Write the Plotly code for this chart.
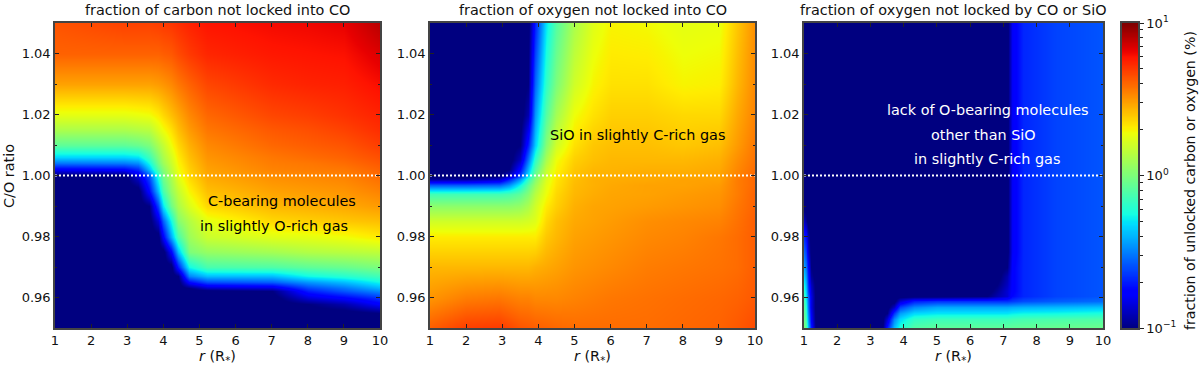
import numpy as np
import plotly.graph_objects as go

C_R = [1, 2.9, 3.3, 3.6, 3.85, 4.0, 4.2, 4.4, 4.7, 5.2, 7, 8, 9, 10]
C_RATIO = [0.950, 0.955, 0.958, 0.960, 0.962, 0.963, 0.965, 0.967, 0.970, 0.975, 0.980, 0.985,
           0.990, 0.995, 1.000, 1.002, 1.004, 1.006, 1.010, 1.015, 1.020, 1.030, 1.040, 1.050]
CARBON = [
    [.09, .09, .09, .09, .09, .09, .09, .09, .09, .09, .09, .09, .09, .09],
    [.09, .09, .09, .09, .09, .09, .09, .09, .09, .09, .09, .09, .09, .10],
    [.09, .09, .09, .09, .09, .09, .09, .09, .09, .09, .09, .10, .12, .17],
    [.09, .09, .09, .09, .09, .09, .09, .09, .09, .09, .09, .14, .17, .22],
    [.09, .09, .09, .09, .09, .09, .09, .09, .09, .09, .10, .20, .26, .33],
    [.09, .09, .09, .09, .09, .09, .09, .09, .10, .13, .14, .24, .30, .40],
    [.09, .09, .09, .09, .09, .09, .09, .09, .18, .25, .27, .35, .42, .55],
    [.09, .09, .09, .09, .09, .09, .09, .10, .32, .42, .42, .55, .62, .72],
    [.09, .09, .09, .09, .09, .09, .09, .20, .55, .75, .78, .85, .90, 1.0],
    [.09, .09, .09, .09, .09, .09, .17, .42, 1.0, 1.15, 1.25, 1.35, 1.4, 1.45],
    [.09, .09, .09, .09, .09, .17, .38, .75, 1.2, 1.55, 1.75, 1.8, 1.9, 2.1],
    [.09, .09, .09, .09, .14, .27, .55, 1.05, 1.35, 1.8, 2.3, 2.4, 2.5, 2.6],
    [.09, .09, .09, .10, .24, .50, .92, 1.3, 1.7, 2.3, 2.7, 2.8, 2.9, 3.1],
    [.09, .09, .09, .18, .42, .75, 1.15, 1.5, 2.0, 2.6, 3.0, 3.1, 3.2, 3.5],
    [.09, .09, .14, .25, .60, .95, 1.3, 1.8, 2.3, 2.9, 3.3, 3.4, 3.5, 3.9],
    [.17, .18, .22, .42, .80, 1.05, 1.45, 1.9, 2.4, 3.0, 3.5, 3.6, 3.7, 4.1],
    [.30, .31, .34, .55, .95, 1.2, 1.55, 2.0, 2.5, 3.1, 3.6, 3.7, 3.9, 4.3],
    [.47, .47, .50, .70, 1.05, 1.3, 1.65, 2.1, 2.6, 3.2, 3.7, 3.9, 4.1, 4.5],
    [.85, .85, .90, 1.0, 1.3, 1.5, 1.9, 2.3, 2.8, 3.4, 4.0, 4.2, 4.4, 4.9],
    [1.3, 1.3, 1.35, 1.4, 1.7, 1.9, 2.2, 2.6, 3.1, 3.7, 4.3, 4.5, 4.8, 5.3],
    [1.8, 1.8, 1.85, 1.9, 2.1, 2.3, 2.6, 2.9, 3.4, 4.0, 4.7, 4.9, 5.2, 5.6],
    [3.0, 3.0, 3.0, 3.0, 3.1, 3.2, 3.4, 3.7, 4.1, 4.7, 5.4, 5.6, 5.7, 6.2],
    [4.1, 4.1, 4.1, 4.1, 4.1, 4.2, 4.3, 4.6, 5.0, 5.5, 5.9, 6.0, 6.1, 6.9],
    [4.4, 4.8, 4.8, 4.8, 4.9, 5.0, 5.1, 5.3, 5.6, 6.0, 6.3, 6.4, 6.6, 8.0],
]

O_R = [1, 2, 2.9, 3.2, 3.5, 3.7, 3.9, 4.2, 4.5, 5, 5.5, 6, 7, 8, 9, 9.5, 10]
O_RATIO = [0.950, 0.960, 0.970, 0.980, 0.985, 0.990, 0.994, 0.997, 0.999, 1.000, 1.002, 1.005,
           1.010, 1.020, 1.030, 1.050]
OXYGEN = [
    [4.2, 4.9, 5.0, 4.7, 4.4, 4.3, 4.2, 4.1, 4.0, 3.9, 3.9, 3.9, 3.9, 4.0, 4.1, 4.3, 4.6],
    [3.2, 3.6, 3.7, 3.6, 3.5, 3.5, 3.4, 3.4, 3.4, 3.5, 3.6, 3.7, 3.8, 3.9, 4.0, 4.1, 4.3],
    [2.7, 2.7, 2.7, 2.7, 2.7, 2.7, 2.8, 2.9, 3.0, 3.2, 3.3, 3.4, 3.6, 3.7, 3.8, 3.9, 4.2],
    [2.1, 2.1, 2.1, 2.1, 2.1, 2.1, 2.1, 2.5, 2.7, 3.0, 3.1, 3.2, 3.4, 3.5, 3.7, 3.9, 4.2],
    [1.6, 1.6, 1.6, 1.6, 1.6, 1.65, 1.75, 2.3, 2.6, 2.9, 3.0, 3.1, 3.3, 3.4, 3.5, 3.8, 4.2],
    [1.1, 1.1, 1.1, 1.1, 1.15, 1.3, 1.6, 2.1, 2.4, 2.8, 2.95, 3.0, 3.1, 3.2, 3.3, 3.7, 4.1],
    [.72, .72, .72, .75, .85, 1.05, 1.4, 1.9, 2.3, 2.7, 2.85, 2.95, 3.0, 3.1, 3.2, 3.6, 4.1],
    [.27, .27, .28, .35, .55, .85, 1.2, 1.8, 2.2, 2.65, 2.8, 2.9, 3.0, 3.0, 3.1, 3.6, 4.0],
    [.11, .11, .13, .20, .35, .65, 1.05, 1.7, 2.15, 2.6, 2.8, 2.85, 2.9, 3.0, 3.0, 3.6, 4.0],
    [.09, .09, .10, .13, .24, .50, .95, 1.6, 2.1, 2.55, 2.75, 2.8, 2.9, 2.9, 3.0, 3.5, 4.0],
    [.09, .09, .09, .10, .18, .40, .80, 1.5, 2.0, 2.5, 2.7, 2.75, 2.8, 2.8, 2.9, 3.4, 3.9],
    [.09, .09, .09, .09, .13, .30, .65, 1.3, 1.9, 2.4, 2.6, 2.7, 2.7, 2.7, 2.8, 3.3, 3.8],
    [.09, .09, .09, .09, .10, .20, .45, 1.05, 1.6, 2.2, 2.5, 2.6, 2.6, 2.5, 2.6, 3.1, 3.7],
    [.09, .09, .09, .09, .09, .12, .35, .80, 1.25, 1.9, 2.2, 2.4, 2.4, 2.3, 2.3, 2.9, 3.5],
    [.09, .09, .09, .09, .09, .10, .28, .65, 1.0, 1.6, 2.0, 2.2, 2.2, 2.0, 2.05, 2.7, 3.4],
    [.09, .09, .09, .09, .09, .09, .20, .50, .80, 1.3, 1.75, 2.0, 1.95, 1.8, 1.85, 2.5, 3.3],
]

S_R = [1, 1.05, 1.12, 1.2, 1.35, 3.35, 3.5, 3.7, 3.9, 4.3, 5, 6.5, 6.8, 7.1, 7.25, 7.6, 8.6, 10]
S_RATIO = [0.950, 0.953, 0.955, 0.957, 0.959, 0.9605, 0.962, 0.964, 0.967, 0.970, 0.975, 0.980,
           0.985, 0.990, 1.050]
OXYGEN_SIO = [
    [1.0, .80, .42, .20, .09, .09, .20, .42, .60, .80, .85, .85, .85, .85, .87, .88, .90, .92],
    [.90, .70, .36, .17, .09, .09, .14, .33, .48, .65, .70, .70, .70, .70, .72, .74, .76, .78],
    [.85, .62, .33, .16, .09, .09, .10, .22, .36, .47, .50, .50, .50, .50, .52, .54, .55, .58],
    [.80, .57, .30, .15, .09, .09, .09, .13, .24, .33, .38, .38, .38, .38, .39, .40, .41, .43],
    [.72, .52, .29, .15, .09, .09, .09, .09, .14, .20, .22, .22, .22, .22, .23, .25, .27, .29],
    [.68, .48, .27, .15, .09, .09, .09, .09, .09, .09, .09, .10, .12, .14, .18, .21, .24, .26],
    [.62, .44, .24, .14, .09, .09, .09, .09, .09, .09, .09, .09, .11, .14, .17, .21, .24, .26],
    [.55, .40, .22, .13, .09, .09, .09, .09, .09, .09, .09, .09, .10, .13, .17, .21, .24, .26],
    [.45, .34, .20, .11, .09, .09, .09, .09, .09, .09, .09, .09, .09, .12, .17, .21, .24, .26],
    [.37, .29, .18, .10, .09, .09, .09, .09, .09, .09, .09, .09, .09, .10, .17, .21, .24, .26],
    [.28, .23, .14, .09, .09, .09, .09, .09, .09, .09, .09, .09, .09, .09, .16, .21, .24, .26],
    [.21, .18, .12, .09, .09, .09, .09, .09, .09, .09, .09, .09, .09, .09, .16, .21, .24, .26],
    [.13, .11, .09, .09, .09, .09, .09, .09, .09, .09, .09, .09, .09, .09, .16, .21, .24, .26],
    [.09, .09, .09, .09, .09, .09, .09, .09, .09, .09, .09, .09, .09, .09, .16, .21, .24, .26],
    [.09, .09, .09, .09, .09, .09, .09, .09, .09, .09, .09, .09, .09, .09, .16, .21, .24, .26],
]

TITLES = ['fraction of carbon not locked into CO',
          'fraction of oxygen not locked into CO',
          'fraction of oxygen not locked by CO or SiO']
CBAR_TITLE = 'fraction of unlocked carbon or oxygen (%)'
CBAR_MAJOR = [0.1, 1, 10]
CBAR_LABELS = ['10<sup>−1</sup>', '10<sup>0</sup>', '10<sup>1</sup>']
CBAR_MINOR = [.2, .3, .4, .5, .6, .7, .8, .9, 2, 3, 4, 5, 6, 7, 8, 9]

JET = [[0, 'rgb(0,0,128)'], [.11, 'rgb(0,0,255)'], [.125, 'rgb(0,0,255)'],
       [.34, 'rgb(0,219,255)'], [.35, 'rgb(0,229,247)'], [.375, 'rgb(21,255,226)'],
       [.64, 'rgb(238,255,8)'], [.65, 'rgb(247,245,0)'], [.66, 'rgb(255,236,0)'],
       [.89, 'rgb(255,19,0)'], [.91, 'rgb(232,0,0)'], [1, 'rgb(128,0,0)']]

W, H = 1200, 367
TOP, BOTTOM = 23, 328
PANELS = [(55, 380), (430, 755), (804, 1103)]
FONT = 'DejaVu Sans'
INK = '#111111'
FRAME = '#444444'
SIZE = 14.4
TICK_SIZE = 13


def px_x(p):
    return p / W


def px_y(p):
    return 1 - p / H


def label_font(color=INK, size=SIZE):
    return dict(family=FONT, size=size, color=color)


def add_text(fig, text, px, py, font=None, angle=0):
    fig.add_annotation(text=text, xref='paper', yref='paper', x=px_x(px), y=px_y(py), showarrow=False,
                       xanchor='center', yanchor='middle', textangle=angle, font=font or label_font())


fig = go.Figure()
data = [(C_R, C_RATIO, CARBON), (O_R, O_RATIO, OXYGEN), (S_R, S_RATIO, OXYGEN_SIO)]
for i, (r, ratio, values) in enumerate(data):
    suffix = '' if i == 0 else str(i + 1)
    fig.add_trace(go.Heatmap(x=r, y=ratio, z=np.log10(np.array(values)), coloraxis='coloraxis',
                             zsmooth='best', xaxis='x' + suffix, yaxis='y' + suffix,
                             hoverinfo='skip'))
    fig.add_trace(go.Scatter(x=[1, 10], y=[1, 1], mode='lines', xaxis='x' + suffix, yaxis='y' + suffix,
                             line=dict(color='white', width=2, dash='2px,2px'), showlegend=False,
                             hoverinfo='skip'))

    common = dict(showgrid=False, zeroline=False, showline=True, linecolor=FRAME, linewidth=1.5,
                  mirror='ticks', ticks='inside', ticklen=4, tickcolor='#222222', automargin=False,
                  tickfont=label_font(size=TICK_SIZE))
    fig.update_layout({
        'xaxis' + suffix: dict(common, domain=[px_x(PANELS[i][0]), px_x(PANELS[i][1])], range=[1, 10],
                               dtick=1, tick0=1, anchor='y' + suffix),
        'yaxis' + suffix: dict(common, domain=[px_y(BOTTOM), px_y(TOP)], range=[0.95, 1.05],
                               tick0=0.96, dtick=0.02, tickformat='.2f', anchor='x' + suffix,
                               minor=dict(dtick=0.01, tick0=0.95, ticks='inside', ticklen=2,
                                          tickcolor='#222222')),
    })
    add_text(fig, TITLES[i], sum(PANELS[i]) / 2, 10)
    add_text(fig, '<i>r</i> (R<sub>*</sub>)', sum(PANELS[i]) / 2, 357)

add_text(fig, 'C/O ratio', 9, 176, angle=-90)

# shared colour bar, drawn as its own log axis so it can have minor ticks
levels = np.logspace(-1, 1, 121)
fig.add_trace(go.Heatmap(x=[0, 1], y=levels, z=np.log10(levels)[:, None].repeat(2, axis=1),
                         coloraxis='coloraxis', zsmooth='best', xaxis='x4', yaxis='y4', hoverinfo='skip'))
fig.update_layout(
    xaxis4=dict(domain=[px_x(1122), px_x(1138)], range=[0, 1], showticklabels=False, ticks='',
                showgrid=False, zeroline=False, showline=True, mirror=True, linecolor=FRAME,
                linewidth=1.5, anchor='y4', automargin=False),
    yaxis4=dict(domain=[px_y(BOTTOM), px_y(TOP)], type='log', range=[-1, 1], side='right', anchor='x4',
                tickmode='array', tickvals=CBAR_MAJOR, ticktext=CBAR_LABELS, ticks='outside', ticklen=4,
                tickcolor='#222222', showgrid=False, zeroline=False, showline=True, mirror=True,
                linecolor=FRAME, linewidth=1.5, tickfont=label_font(size=TICK_SIZE), automargin=False,
                minor=dict(tickmode='array', tickvals=CBAR_MINOR, ticks='outside', ticklen=3,
                           tickcolor='#222222', showgrid=False)),
)
add_text(fig, CBAR_TITLE, 1190, 181, font=label_font(size=14.2), angle=-90)

notes = [
    ('C-bearing molecules', 282, 201, 'black'),
    ('in slightly O-rich gas', 274, 226, 'black'),
    ('SiO in slightly C-rich gas', 637, 135, 'black'),
    ('lack of O-bearing molecules', 988, 110, 'white'),
    ('other than SiO', 983, 135, 'white'),
    ('in slightly C-rich gas', 987, 159, 'white'),
]
for text, px, py, color in notes:
    add_text(fig, text, px, py, font=label_font(color))

fig.update_layout(
    width=W, height=H, margin=dict(l=0, r=0, t=0, b=0), autosize=False,
    paper_bgcolor='white', plot_bgcolor='white', showlegend=False,
    coloraxis=dict(colorscale=JET, cmin=-1, cmax=1, showscale=False),
)
# the page's default body margin would push the figure 8px down and right
fig.write_html('out.html', config={'displayModeBar': False},
               post_script="document.body.style.margin = '0';")
